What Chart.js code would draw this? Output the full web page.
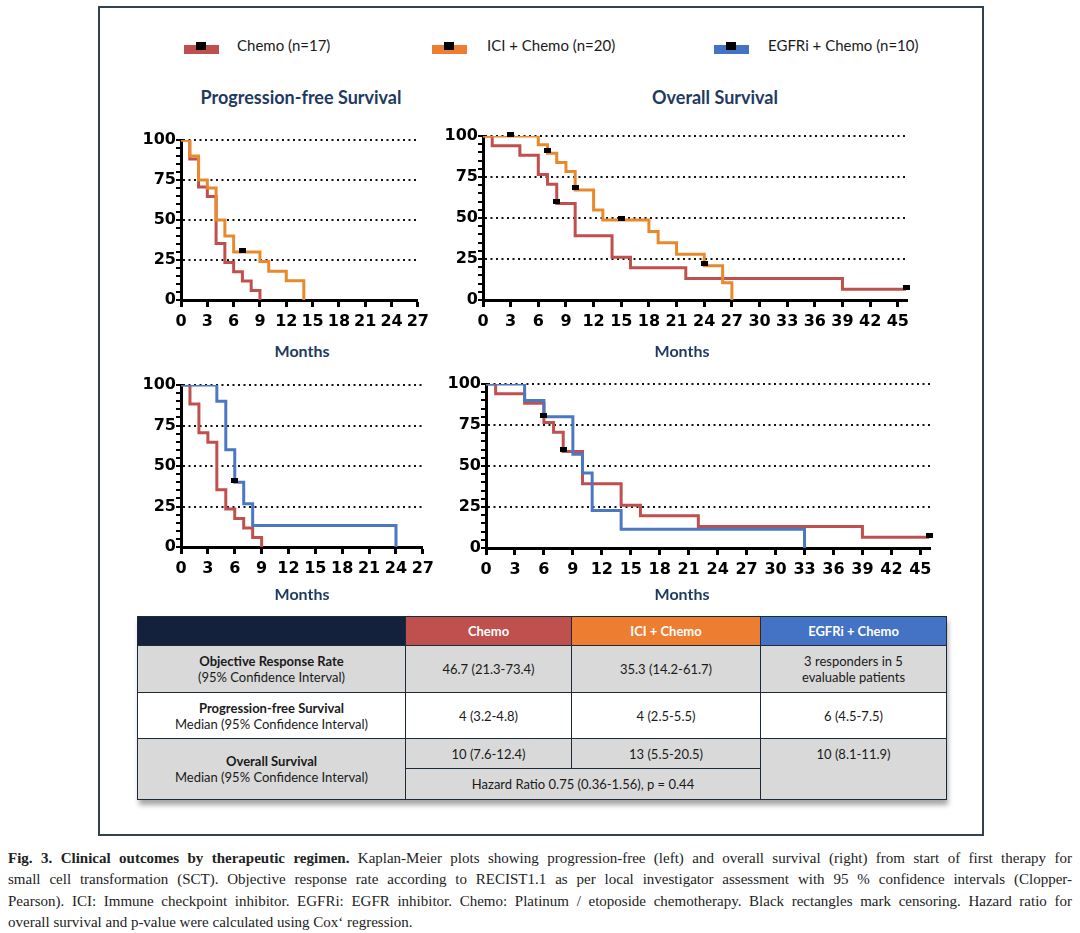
<!DOCTYPE html>
<html><head><meta charset="utf-8">
<script src="https://cdn.jsdelivr.net/npm/chart.js@4/dist/chart.umd.min.js"></script>
<style>
html,body{margin:0;padding:0;background:#fff;}
body{width:1080px;height:933px;position:relative;overflow:hidden;font-family:Lato,'Open Sans',sans-serif;color:#1a1a1a;}
.frame{position:absolute;left:98px;top:6px;width:882px;height:826px;border:2px solid #34424f;}
.cv{position:absolute;}
.leg-bar{position:absolute;width:35px;height:9px;}
.leg-sq{position:absolute;width:10px;height:8px;background:#000;}
.leg-txt{position:absolute;font-size:15px;line-height:18px;color:#1a1a1a;white-space:nowrap;}
.ttl{position:absolute;font-weight:700;font-size:18px;color:#1f3a5f;white-space:nowrap;transform:translateX(-50%);}
.mon{position:absolute;font-weight:700;font-size:16px;color:#1f3a5f;white-space:nowrap;transform:translate(-50%,-50%);}
.tblwrap{position:absolute;left:137px;top:616px;width:809px;box-shadow:2px 5px 5px rgba(0,0,0,0.35);}
table{border-collapse:collapse;table-layout:fixed;width:809px;font-size:13px;line-height:16px;}
td,th{border:1.5px solid #1c2a3a;text-align:center;vertical-align:middle;padding:0;}
th{color:#fff;font-weight:700;height:28px;font-size:13px;}
.g td{background:#d9d9d9;}
.w td{background:#fff;}
.cap{position:absolute;left:8px;width:1064px;font-family:'Liberation Serif','DejaVu Serif',serif;font-size:15px;color:#222;white-space:nowrap;text-align:justify;text-align-last:justify;}
.cap.last{text-align-last:left;}
</style></head>
<body>
<div class="frame"></div>

<!-- legend -->
<div class="leg-bar" style="left:184px;top:45px;background:#c0504d"></div><div class="leg-sq" style="left:196px;top:42px"></div>
<div class="leg-txt" style="left:237px;top:36px">Chemo (n=17)</div>
<div class="leg-bar" style="left:432px;top:45px;background:#ed7d31"></div><div class="leg-sq" style="left:444px;top:42px"></div>
<div class="leg-txt" style="left:487px;top:36px">ICI + Chemo (n=20)</div>
<div class="leg-bar" style="left:714px;top:45px;background:#4472c4"></div><div class="leg-sq" style="left:726px;top:42px"></div>
<div class="leg-txt" style="left:768px;top:36px">EGFRi + Chemo (n=10)</div>

<div class="ttl" style="left:301px;top:86px">Progression-free Survival</div>
<div class="ttl" style="left:715px;top:86px">Overall Survival</div>

<canvas id="c1" class="cv" width="303" height="215" style="left:131px;top:125px"></canvas>
<canvas id="c2" class="cv" width="488" height="219" style="left:433px;top:121px"></canvas>
<canvas id="c3" class="cv" width="308" height="217" style="left:131px;top:370px"></canvas>
<canvas id="c4" class="cv" width="508" height="219" style="left:436px;top:369px"></canvas>

<div class="mon" style="left:302px;top:350px">Months</div>
<div class="mon" style="left:682px;top:350px">Months</div>
<div class="mon" style="left:302px;top:593px">Months</div>
<div class="mon" style="left:682px;top:593px">Months</div>

<div class="tblwrap">
<table>
<colgroup><col style="width:268px"><col style="width:166px"><col style="width:189px"><col style="width:186px"></colgroup>
<tr><th style="background:#14213d"></th><th style="background:#c0504d">Chemo</th><th style="background:#ed7d31">ICI + Chemo</th><th style="background:#4472c4">EGFRi + Chemo</th></tr>
<tr class="g" style="height:47px"><td><b>Objective Response Rate</b><br>(95% Confidence Interval)</td><td>46.7 (21.3-73.4)</td><td>35.3 (14.2-61.7)</td><td>3 responders in 5<br>evaluable patients</td></tr>
<tr class="w" style="height:46px"><td><b>Progression-free Survival</b><br>Median (95% Confidence Interval)</td><td>4 (3.2-4.8)</td><td>4 (2.5-5.5)</td><td>6 (4.5-7.5)</td></tr>
<tr class="g" style="height:30px"><td rowspan="2"><b>Overall Survival</b><br>Median (95% Confidence Interval)</td><td>10 (7.6-12.4)</td><td>13 (5.5-20.5)</td><td rowspan="2" style="vertical-align:top;padding-top:7px">10 (8.1-11.9)</td></tr>
<tr class="g" style="height:31px"><td colspan="2">Hazard Ratio 0.75 (0.36-1.56), p = 0.44</td></tr>
</table>
</div>

<div class="cap" style="top:850px"><b>Fig. 3. Clinical outcomes by therapeutic regimen.</b> Kaplan-Meier plots showing progression-free (left) and overall survival (right) from start of first therapy for</div>
<div class="cap" style="top:871px">small cell transformation (SCT). Objective response rate according to RECIST1.1 as per local investigator assessment with 95 % confidence intervals (Clopper-</div>
<div class="cap" style="top:893px">Pearson). ICI: Immune checkpoint inhibitor. EGFRi: EGFR inhibitor. Chemo: Platinum / etoposide chemotherapy. Black rectangles mark censoring. Hazard ratio for</div>
<div class="cap last" style="top:914px">overall survival and p-value were calculated using Cox‘ regression.</div>

<script>
// ---- tick labels ----
const pfsXTicks = [0,3,6,9,12,15,18,21,24,27];
const osXTicks = [0,3,6,9,12,15,18,21,24,27,30,33,36,39,42,45];
const yTickLabels = [0,25,50,75,100];

// ---- Progression-free survival (months, % surviving) ----
const pfsChemoT = [0,1,2,3,4,5,6,7,8,9];
const pfsChemoS = [100,88.2,70.6,64.7,35.3,23.5,17.6,11.8,5.9,0];
const pfsIciT = [0,1,2,3,4,5,6,9,10,12,14];
const pfsIciS = [100,90,75,70,50,40,30,24,18,12,0];
const pfsIciCensorT = [7];
const pfsIciCensorS = [31];
const pfsEgfrT = [0,4,5,6,7,8,24];
const pfsEgfrS = [100,90,60,40,26.7,13.3,0];
const pfsEgfrCensorT = [6];
const pfsEgfrCensorS = [41];

// ---- Overall survival ----
const osChemoT = [0,1,4,6,7,8,10,14,16,22,39,45.9];
const osChemoS = [100,94.1,88.2,76.5,70.6,58.8,39.2,26.1,19.6,13.1,6.5,6.5];
const osChemoCensorT = [8,45.9];
const osChemoCensorS = [60,7.5];
const osIciT = [0,6,7,8,9,10,12,13,18,19,21,24,26,27];
const osIciS = [100,94.7,89.5,83.9,78.3,67.1,54.9,48.8,41.8,34.9,27.9,20.9,10.5,0];
const osIciCensorT = [3,7,10,15,24];
const osIciCensorS = [101,91,68.5,50,22];
const osEgfrT = [0,4,6,9,10,11,14,33];
const osEgfrS = [100,90,80,57.1,45.7,22.9,11.4,0];
const osEgfrCensorT = [6];
const osEgfrCensorS = [81];

const RED = '#c0504d', ORANGE = '#e8892c', BLUE = '#4a78c2';

const mark = document.createElement('canvas');
mark.width = 7; mark.height = 5;
(function(){ const c = mark.getContext('2d'); c.fillStyle = '#000'; c.fillRect(0,0,7,5); })();

const pts = (t, s) => t.map((v, i) => ({x: v, y: s[i]}));

function km(id, xMax, xTicks, lines, censor) {
  const datasets = [];
  datasets.push({type:'scatter', label:'censored', data: pts(censor[0], censor[1]), pointStyle: mark, pointRadius: 4, clip: false, order: 0});
  lines.forEach((l, i) => datasets.push({
    type:'line', label:l.label, data: pts(l.t, l.s), borderColor: l.color, backgroundColor: l.color,
    borderWidth: 3, stepped: true, pointRadius: 0, fill: false, tension: 0, order: i + 1
  }));
  new Chart(document.getElementById(id), {
    data: {datasets},
    options: {
      responsive: false, animation: false, events: [],
      layout: {padding: {top: 15, right: 14, left: 0, bottom: 0}},
      plugins: {legend: {display: false}, tooltip: {enabled: false}},
      scales: {
        x: {
          type: 'linear', min: 0, max: xMax,
          afterBuildTicks: s => { s.ticks = xTicks.map(v => ({value: v})); },
          afterFit: s => { s.height = 40; },
          ticks: {autoSkip: false, maxRotation: 0, color: '#000', padding: 5,
                  font: {family: 'DejaVu Sans', weight: 'bold', size: 16}},
          grid: {drawOnChartArea: false, drawTicks: true, tickLength: 7, tickWidth: 3, tickColor: '#000', color: '#000'},
          border: {display: true, color: '#000', width: 3}
        },
        y: {
          type: 'linear', min: 0, max: 100,
          afterFit: s => { s.width = 50; },
          ticks: {stepSize: 5, autoSkip: false, maxTicksLimit: 100, color: '#000', padding: 0,
                  font: {family: 'DejaVu Sans', weight: 'bold', size: 16},
                  callback: v => yTickLabels.includes(v) ? String(v) : ''},
          grid: {
            color: c => (c.tick && c.tick.value > 0 && yTickLabels.includes(c.tick.value)) ? '#111' : 'rgba(0,0,0,0)',
            lineWidth: 2, drawTicks: true, tickLength: 5, tickWidth: 2, tickColor: '#000'
          },
          border: {display: true, color: '#000', width: 3, dash: [2, 3.5]}
        }
      }
    }
  });
}

km('c1', 27, pfsXTicks, [
  {label: 'ICI + Chemo', t: pfsIciT, s: pfsIciS, color: ORANGE},
  {label: 'Chemo', t: pfsChemoT, s: pfsChemoS, color: RED}
], [pfsIciCensorT, pfsIciCensorS]);

km('c2', 46, osXTicks, [
  {label: 'ICI + Chemo', t: osIciT, s: osIciS, color: ORANGE},
  {label: 'Chemo', t: osChemoT, s: osChemoS, color: RED}
], [osIciCensorT.concat(osChemoCensorT), osIciCensorS.concat(osChemoCensorS)]);

km('c3', 27, pfsXTicks, [
  {label: 'EGFRi + Chemo', t: pfsEgfrT, s: pfsEgfrS, color: BLUE},
  {label: 'Chemo', t: pfsChemoT, s: pfsChemoS, color: RED}
], [pfsEgfrCensorT, pfsEgfrCensorS]);

km('c4', 46, osXTicks, [
  {label: 'EGFRi + Chemo', t: osEgfrT, s: osEgfrS, color: BLUE},
  {label: 'Chemo', t: osChemoT, s: osChemoS, color: RED}
], [osEgfrCensorT.concat(osChemoCensorT), osEgfrCensorS.concat(osChemoCensorS)]);
</script>
</body></html>
